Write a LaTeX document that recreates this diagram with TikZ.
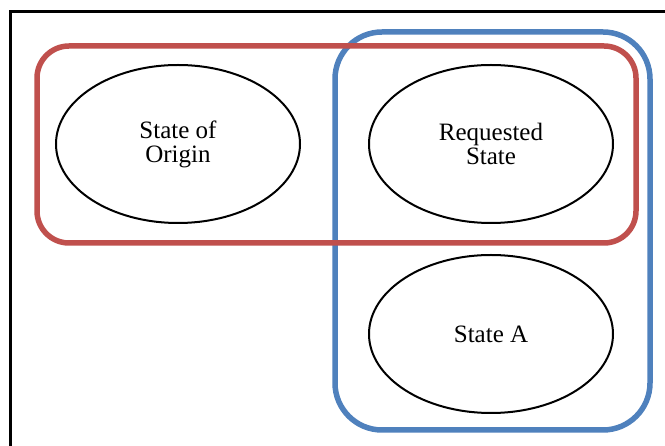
\documentclass[tikz,border=0pt]{standalone}
\usepackage{fontspec}
\setmainfont{Liberation Serif}
\usetikzlibrary{shapes.geometric}
\definecolor{grpred}{HTML}{C0504D}
\definecolor{grpblue}{HTML}{4F81BD}
\tikzset{
  statenode/.style={ellipse, draw=black, line width=2pt, minimum width=244pt, minimum height=158pt, inner sep=0pt, align=center, font=\fontsize{25}{24}\selectfont},
  grpbox/.style={line width=5.5pt}
}
\begin{document}
\begin{tikzpicture}[x=1pt,y=-1pt]
\useasboundingbox (0,0) rectangle (665,446);
\clip (0,0) rectangle (665,446);
\fill[white] (0,0) rectangle (665,446);
\draw[line width=3pt] (10.5,450) -- (10.5,12) -- (670,12);
\draw[grpbox, draw=grpblue, rounded corners=47pt] (335,32) rectangle (650,430);
\draw[grpbox, draw=grpred, rounded corners=32pt] (37,46) rectangle (636,243);
\node[statenode] (origin) at (178,144) {State of\\Origin};
\node[statenode] (requested) at (491,144) {Requested\\State};
\node[statenode] (stateA) at (491,334) {State A};
\end{tikzpicture}
\end{document}
